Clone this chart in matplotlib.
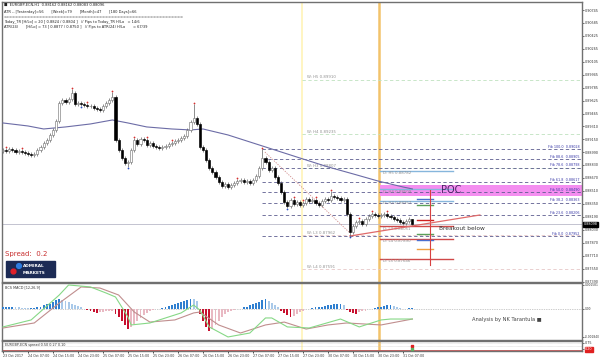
import numpy as np
import matplotlib
matplotlib.use("Agg")
import matplotlib.pyplot as plt
import matplotlib.transforms as mtransforms
from matplotlib.patches import Rectangle, Circle

plt.rcParams['font.family'] = ['DejaVu Sans']

# ---------------- data ----------------
date_labels = ["23 Oct 2017", "24 Oct 07:00", "24 Oct 15:00", "24 Oct 23:00", "25 Oct 07:00",
               "25 Oct 15:00", "25 Oct 23:00", "26 Oct 07:00", "26 Oct 15:00", "26 Oct 23:00",
               "27 Oct 07:00", "27 Oct 15:00", "27 Oct 23:00", "30 Oct 07:00", "30 Oct 15:00",
               "30 Oct 23:00", "31 Oct 07:00"]
date_label_idx = list(range(0, 129, 8))

first_open = 0.89003
closes = [0.89015, 0.89003, 0.89028, 0.89015, 0.88991, 0.89003, 0.88991, 0.88978, 0.88966, 0.88954, 0.88966,
          0.89015, 0.89052, 0.89102, 0.89139, 0.89201, 0.89263, 0.89374, 0.89596,
          0.89633, 0.89609, 0.89646, 0.89720, 0.89584, 0.89596,
          0.89584, 0.89572, 0.89559, 0.89559, 0.89535, 0.89522, 0.89510, 0.89559, 0.89596, 0.89633, 0.89670,
          0.89139, 0.89015, 0.88917, 0.88855, 0.88867, 0.89015, 0.89139, 0.89089, 0.89151, 0.89139, 0.89077, 0.89102,
          0.89065, 0.89052, 0.89040, 0.89052, 0.89065, 0.89089, 0.89102, 0.89127, 0.89139, 0.89164, 0.89188,
          0.89263, 0.89361, 0.89411, 0.89337,
          0.89052, 0.89015, 0.88892, 0.88793, 0.88744, 0.88682, 0.88620, 0.88571, 0.88595, 0.88558, 0.88583,
          0.88608, 0.88632, 0.88645,
          0.88620, 0.88632, 0.88608, 0.88645, 0.88694, 0.88793, 0.88917, 0.88867, 0.88768, 0.88793, 0.88682, 0.88608,
          0.88496, 0.88373, 0.88324, 0.88398, 0.88348, 0.88373, 0.88336, 0.88361, 0.88410, 0.88385, 0.88398,
          0.88361, 0.88336, 0.88385, 0.88410, 0.88398, 0.88447, 0.88435, 0.88422, 0.88398, 0.88410,
          0.88225, 0.88002, 0.88076, 0.88126, 0.88138, 0.88101, 0.88163, 0.88200, 0.88225, 0.88212, 0.88200,
          0.88212, 0.88225, 0.88200, 0.88187, 0.88163, 0.88150, 0.88126, 0.88113, 0.88138, 0.88162, 0.88096]

upper_wick_pips = [2, 3, 2, 2, 2, 2, 3, 2, 2, 2, 2,
                   2, 2, 2, 3, 2, 2, 2, 2,
                   3, 2, 3, 5, 2, 2,
                   2, 3, 2, 2, 2, 2, 2, 2, 3, 2, 6,
                   2, 2, 2, 2, 2, 3, 3, 3, 2, 3, 2, 2,
                   2, 2, 2, 2, 2, 2, 3, 2, 2, 2, 2, 3, 2, 17, 2,
                   2, 2, 2, 2, 2, 2, 2, 2, 2, 2, 2, 2, 3, 2,
                   2, 2, 2, 2, 2, 2, 11, 2, 2, 2, 2, 2,
                   2, 2, 2, 2, 3, 2, 2, 3, 2, 2, 3, 2, 2, 2, 2, 2, 6, 2, 2, 2, 2,
                   2, 2, 2, 3, 3, 2, 2, 2, 3, 2, 2, 2, 2, 3, 2, 2, 2, 2, 2, 2, 2, 0]
lower_wick_pips = [2, 2, 2, 2, 2, 2, 2, 2, 2, 3, 2,
                   2, 2, 2, 2, 2, 2, 2, 2,
                   2, 2, 2, 2, 2, 2,
                   3, 2, 2, 2, 2, 3, 2, 2, 2, 2, 2,
                   2, 2, 2, 2, 5, 2, 2, 2, 2, 2, 2, 2,
                   2, 2, 2, 2, 2, 2, 2, 2, 2, 2, 2, 2, 2, 2, 2,
                   2, 2, 2, 2, 2, 2, 2, 3, 2, 3, 2, 2, 2, 2,
                   2, 2, 2, 2, 2, 2, 2, 2, 2, 2, 2, 2,
                   2, 2, 3, 2, 2, 2, 2, 2, 2, 2, 2, 2, 2, 2, 2, 2, 2, 2, 2, 2, 2,
                   2, 5, 2, 2, 2, 2, 2, 2, 2, 2, 2, 2, 2, 2, 2, 2, 2, 2, 2, 2, 2, 1.3]

fractal_up_idx = [1, 6, 22, 27, 35, 42, 46, 54, 61, 75, 83, 93, 96, 100, 105, 114, 118, 123]
fractal_dn_idx = [25, 40, 91, 111]

ma_idx = [0, 8, 13, 20, 28, 35, 40, 46, 54, 60, 64, 72, 80, 88, 96, 104, 112, 120, 128, 131]
ma_val = [0.89349, 0.89312, 0.89275, 0.89300, 0.89337, 0.89386, 0.89349, 0.89300, 0.89275, 0.89263,
          0.89275, 0.89201, 0.89102, 0.89003, 0.88904, 0.88806, 0.88720, 0.88632, 0.88558, 0.88534]

price_ticks = [0.90745, 0.90585, 0.90425, 0.90265, 0.90105, 0.89945, 0.89785, 0.89625, 0.89465, 0.89310,
               0.89150, 0.88990, 0.88830, 0.88670, 0.88510, 0.88350, 0.88190, 0.88030, 0.87870, 0.87710,
               0.87550, 0.87390]
bid_price = 0.88098

fib_names = ["100.0", "88.6", "78.6", "61.8", "50.0", "38.2", "23.6", "0.0"]
fib_prices = [0.89028, 0.88905, 0.88798, 0.88617, 0.88490, 0.88363, 0.88206, 0.87952]

w_names = ["H5", "H4", "H3", "L3", "L4"]
w_prices = [0.89885, 0.89215, 0.88790, 0.87962, 0.87545]
w_labels = ["0.89910", "0.89235", "0.88807", "0.87962", "0.87591"]

d_names = ["H5", "H4", "H3", "L3", "L4", "L5"]
d_prices = [0.88760, 0.88530, 0.88390, 0.88070, 0.87915, 0.87670]
d_labels = ["0.88782", "0.88509", "0.88357", "0.88051", "0.87890", "0.87646"]

poc_low, poc_high = 0.88447, 0.88584

marker_prices = [0.88410, 0.88336, 0.88150, 0.87977, 0.87903, 0.87792]
marker_colors = ["#4a6fd0", "#5aa05a", "#d02020", "#5aa05a", "#4a6fd0", "#f0a040"]

trend_idx = [111, 152.6]
trend_val = [0.87952, 0.88212]
fib_anchor_idx = [83.8, 111]
fib_anchor_val = [0.88990, 0.87990]

hist_1e5 = [10, 10, 13, 13, 12, 10,
            8, 7, 5, 5, 7,
            10, 16, 23, 30, 36, 46, 56, 66,
            59, 53, 43, 33, 26, 20,
            10, 3, -7, -13, -20, -26, -23, -20, -16, -13, -10,
            -33, -53, -79, -105, -132, -118, -99, -79, -59, -39, -26, -13,
            -7, -3, 3,
            7, 13, 20, 26, 33, 39, 46, 53, 59, 66, 63, 53,
            -33, -79, -118, -145,
            -132, -105, -79, -53, -33,
            -20, -13, -7, -3, 3,
            10, 16, 23, 30, 39, 49, 59, 69,
            53, 39, 26, 13,
            -13, -26, -39, -53, -46, -33, -20,
            -10, -3, 3, 7,
            10, 13, 16, 20, 23, 26, 30, 33, 34,
            26,
            -7, -20, -26, -30, -23,
            -16, -10, -3, 3,
            7, 13, 16, 20, 23, 26,
            20, 13, 7,
            2, 1, 5, 7]

macd_idx = [0, 9, 18, 21, 28, 33, 36, 40, 41, 47, 57, 61, 63, 66, 72, 79, 84, 86, 91, 98, 108, 114, 121, 124, 131]
macd_val = [-0.00118, -0.00072, 0.00092, 0.00158, 0.00145, 0.00105, 0.00079, -0.00053, -0.00105, -0.00092,
            -0.00026, 0.00026, -0.00007, -0.00118, -0.00184, -0.00158, -0.00059, -0.00059, -0.00118, -0.00125,
            -0.00066, -0.00118, -0.00072, -0.00066, -0.00066]
signal_idx = [0, 10, 18, 25, 31, 37, 42, 47, 55, 61, 63, 69, 76, 84, 90, 97, 104, 110, 121, 131]
signal_val = [-0.00125, -0.00092, 0.00039, 0.00145, 0.00138, 0.00092, -0.00020, -0.00086, -0.00072, -0.00026,
              -0.00020, -0.00105, -0.00158, -0.00105, -0.00086, -0.00132, -0.00105, -0.00092, -0.00105, -0.00066]
macd_ticks = [0.001581, 0.0, -0.001840]
macd_tick_labels = ["0.001581", "0.00", "-0.001840"]

week_sep_idx = 95.7
day_sep_idx = 120.3

# ---------------- layout ----------------
W, H = 600, 361
fig = plt.figure(figsize=(6.0, 3.61), dpi=100)
fig.patch.set_facecolor("white")


def fx(px):
    return px / W


def fy(py):
    return 1 - py / H


def panel(top, bottom):
    return fig.add_axes([fx(2), fy(bottom), fx(582) - fx(2), fy(top) - fy(bottom)])


ax = panel(2, 282)
axm = panel(283, 340)
axs = panel(341, 351)

XMIN, XMAX = -0.32, 185.28
for a in (ax, axm, axs):
    a.set_xlim(XMIN, XMAX)
    a.set_facecolor("white")
    for s in a.spines.values():
        s.set_color("#707070")
        s.set_linewidth(1.0)
    a.set_xticks([])
    a.yaxis.tick_right()
    a.tick_params(axis="y", direction="out", length=1.5, width=0.5, pad=0.8,
                  labelsize=2.4, colors="#333333")

# ---------------- main price panel ----------------
ax.set_ylim(0.87384, 0.90844)
ax.set_yticks(price_ticks)
ax.set_yticklabels([f"{v:.5f}" for v in price_ticks])

n = len(closes)
idx = np.arange(n)
c = np.array(closes)
o = np.array([first_open] + closes[:-1])
o[-1] = 0.88162
hi = np.maximum(o, c) + np.array(upper_wick_pips) * 1e-4
lo = np.minimum(o, c) - np.array(lower_wick_pips) * 1e-4

# separators
for a in (ax, axm, axs):
    a.axvline(week_sep_idx, color="#fff3b8", lw=1.2, zorder=1)
    a.axvline(day_sep_idx, color="#f2c36b", lw=1.8, zorder=1)

# POC band
ax.fill_between([120.6, XMAX], poc_low, poc_high, color="#f48ef0", lw=0, zorder=1)

# weekly pivots
wx0 = week_sep_idx
for name, p, lab in zip(w_names, w_prices, w_labels):
    col = "#bfe2bf" if name.startswith("H") else "#e6c8c8"
    ax.plot([wx0, XMAX], [p, p], color=col, lw=0.6, ls=(0, (4, 3)), zorder=2)
    ax.text(wx0 + 1.6, p + 0.00004, f"W: {name} {lab}", fontsize=2.8, color="#909090",
            va="bottom", ha="left", zorder=3)

# fib lines
for name, p in zip(fib_names, fib_prices):
    ax.plot([83, XMAX], [p, p], color="#5d5d8f", lw=0.6, ls=(0, (4, 3)), zorder=2)
    ax.text(XMAX - 0.8, p + 0.00004, f"Fib {name}  {p:.5f}", fontsize=2.4, color="#3a3aa8",
            ha="right", va="bottom", zorder=3)

# daily pivots
for name, p, lab in zip(d_names, d_prices, d_labels):
    col = "#86b6dc" if name.startswith("H") else "#d04848"
    ax.plot([120.6, 144], [p, p], color=col, lw=1.0, zorder=3)
    ax.text(121.6, p - 0.00004, f"D: {name} {lab}", fontsize=2.8, color="#909090",
            ha="left", va="top", zorder=3)

# small markers
for p, col in zip(marker_prices, marker_colors):
    ax.plot([132.5, 137.5], [p, p], color=col, lw=1.0, zorder=4)
ax.plot([136.6, 136.6], [0.87597, 0.88521], color="#d84040", lw=0.8, zorder=4)

# trend lines
ax.plot(trend_idx, trend_val, color="#e06a6a", lw=0.9, zorder=4)
ax.plot(fib_anchor_idx, fib_anchor_val, color="#d08a8a", lw=0.6, ls=(0, (1.5, 1.5)), zorder=4)

# bid line
ax.axhline(bid_price, color="#b9b9c9", lw=0.6, zorder=2)

# moving average
ax.plot(ma_idx, ma_val, color="#6c6ca6", lw=0.8, zorder=5)

# candles
ax.vlines(idx, lo, hi, color="#606060", lw=0.5, zorder=6)
bull = c >= o
body_h = np.where(np.abs(c - o) < 0.00004, 0.00004, c - o)
ax.bar(idx[bull], body_h[bull], bottom=o[bull], width=0.66, color="white",
       edgecolor="#7a7a7a", linewidth=0.45, zorder=7)
ax.bar(idx[~bull], body_h[~bull], bottom=o[~bull], width=0.66, color="black",
       edgecolor="black", linewidth=0.45, zorder=7)

# fractals
ax.scatter(fractal_up_idx, hi[fractal_up_idx] + 0.00012, s=1.6, color="#d83030", lw=0, zorder=8)
ax.scatter(fractal_dn_idx, lo[fractal_dn_idx] - 0.00012, s=1.6, color="#2f4fc0", lw=0, zorder=8)

# labels in the main panel
ax.text(140.3, 0.88515, "POC", fontsize=7, color="#4a2466", va="center", ha="left", zorder=9)
ax.text(139.5, 0.88040, "Breakout below", fontsize=4.2, color="#333333", va="center", ha="left", zorder=9)

trans = mtransforms.blended_transform_factory(ax.transAxes, ax.transData)
ax.text(1.0025, bid_price, f"{bid_price:.5f}", transform=trans, fontsize=2.4, color="white",
        va="center", ha="left", zorder=10, clip_on=False,
        bbox=dict(boxstyle="square,pad=0.15", fc="black", ec="black"))

# ---------------- MACD panel ----------------
axm.set_ylim(-0.00204, 0.00171)
axm.set_yticks(macd_ticks)
axm.set_yticklabels(macd_tick_labels)
axm.tick_params(axis="y", labelsize=2.1, pad=0.5)
hist = np.array(hist_1e5) * 1e-5
cols = []
for i, v in enumerate(hist):
    prev = hist[i - 1] if i > 0 else 0
    if v >= 0:
        cols.append("#2f7fd0" if v >= prev else "#a9c9e9")
    else:
        cols.append("#c8102e" if v <= prev else "#e9b9c3")
axm.bar(np.arange(len(hist)), hist, width=0.62, color=cols, lw=0, zorder=3)
axm.axhline(0, color="#9a9a9a", lw=0.5, ls=(0, (1, 1.5)), zorder=2)
axm.plot(signal_idx, signal_val, color="#c08e8e", lw=0.8, zorder=4)
axm.plot(macd_idx, macd_val, color="#86d886", lw=0.8, zorder=5)
axm.text(0.006, 0.96, "BCS MACD [12,26,9]", transform=axm.transAxes, fontsize=2.4,
         color="#333333", va="top", ha="left")
fig.text(fx(472), fy(320), "Analysis by NK Tarantula \u25a0", fontsize=3.7, color="#444444",
         va="center", ha="left")

# ---------------- spread panel ----------------
axs.set_ylim(0, 1)
axs.set_yticks([0.8, 0.2])
axs.set_yticklabels(["0.75", "0.20"])
lbls = axs.get_yticklabels()
lbls[1].set_color("white")
lbls[1].set_bbox(dict(boxstyle="square,pad=0.15", fc="#e02020", ec="#e02020"))
axs.axhline(0.8, color="#c8c8c8", lw=0.4, ls=(0, (1, 1)))
axs.axhline(0.5, color="#c8c8c8", lw=0.4, ls=(0, (1, 1)))
axs.axhline(0.15, color="#d06060", lw=0.7)
axs.scatter([131], [0.55], s=4, marker="s", color="#e02020", zorder=5)
axs.scatter([131], [0.2], s=2, marker="s", color="#60b060", zorder=5)
axs.text(0.006, 0.82, "EURGBP-ECN spread 0.50 0.27 0.10", transform=axs.transAxes, fontsize=2.4,
         color="#333333", va="top", ha="left")
axs.set_xticks(date_label_idx)
axs.set_xticklabels(date_labels, ha="left", fontsize=2.3, color="#333333")
axs.tick_params(axis="x", direction="out", length=1.5, width=0.5, pad=0.8)

# ---------------- overlays ----------------
info_lines = [
    "\u25a0  EURGBP-ECN,H1  0.88162 0.88162 0.88083 0.88096",
    "ATR -- [Yesterday]=56       [Week]=79       [Month]=47       [180 Days]=66",
    "=" * 60,
    "Today_TR [H/Lo] = 20 [ 0.8824 / 0.8804 ]   // Pips to Today_TR H/Lo   = 14/6",
    "ATR(24)       [H/Lo] = 73 [ 0.8877 / 0.8750 ]   // Pips to ATR(24) H/Lo       = 67/39",
]
info_y = [5, 12, 17, 22, 27]
for t, yy in zip(info_lines, info_y):
    fig.text(fx(4), fy(yy), t, fontsize=2.6, color="#222222", va="center", ha="left")

fig.text(fx(5), fy(254), "Spread:  0.2", fontsize=5.0, color="#c83030", va="center", ha="left")

logo_ax = fig.add_axes([0, 0, 1, 1], facecolor="none")
logo_ax.set_xlim(0, W)
logo_ax.set_ylim(H, 0)
logo_ax.axis("off")
logo_ax.add_patch(Rectangle((6, 261), 49, 16, color="#1c2b55"))
logo_ax.add_patch(Circle((19, 266), 2.4, color="#2e7de0"))
logo_ax.add_patch(Circle((13.5, 271.5), 2.4, color="#e0202a"))
logo_ax.text(23, 266, "ADMIRAL", fontsize=3.1, color="white", fontweight="bold", va="center", ha="left")
logo_ax.text(23, 272.5, "MARKETS", fontsize=3.1, color="white", fontweight="bold", va="center", ha="left")

fig.savefig("out.png", dpi=100, facecolor="white")
